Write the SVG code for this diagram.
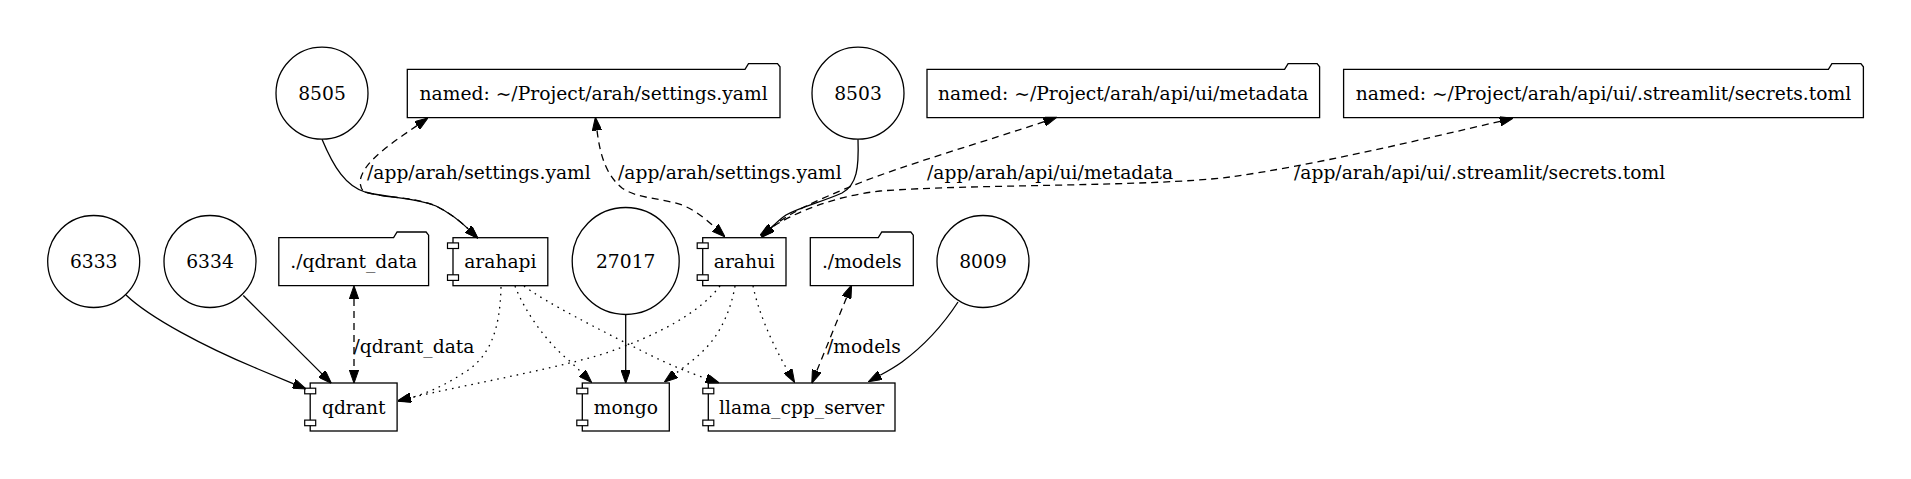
<svg xmlns="http://www.w3.org/2000/svg" width="1911" height="479" viewBox="0 0 1911 479">
<style>
text{font-family:"DejaVu Serif","Liberation Serif",serif;font-size:18.7px;fill:#000}
.node text{text-anchor:middle}
.node circle,.node .box,.node .fold{fill:none;stroke:#000;stroke-width:1.3}
.node .port{fill:#fff;stroke:#000;stroke-width:1.2}
.edges path{fill:none;stroke:#000;stroke-width:1.3}
.edges .dash{stroke-dasharray:7,5}
.edges .dot{stroke-dasharray:1.6,5}
.s{marker-end:url(#arr)}
.b{marker-start:url(#arr);marker-end:url(#arr)}
</style>
<defs>
<marker id="arr" viewBox="0 0 13.4 9.4" refX="0" refY="4.7" markerWidth="13.4" markerHeight="9.4" markerUnits="userSpaceOnUse" orient="auto-start-reverse"><path d="M0,0 L13.4,4.7 L0,9.4 z" fill="#000" stroke="#000" stroke-width="1"/></marker>
</defs>
<rect width="1911" height="479" fill="#fff"/>

<g id="n8505" class="node"><circle cx="322" cy="93.2" r="46"/><text x="322" y="99.7">8505</text></g>
<g id="n8503" class="node"><circle cx="858" cy="93.2" r="46"/><text x="858" y="99.7">8503</text></g>
<g id="n6333" class="node"><circle cx="93.7" cy="261.5" r="46"/><text x="93.7" y="268">6333</text></g>
<g id="n6334" class="node"><circle cx="210" cy="261.5" r="46"/><text x="210" y="268">6334</text></g>
<g id="n27017" class="node"><circle cx="625.7" cy="261" r="53.5"/><text x="625.7" y="268">27017</text></g>
<g id="n8009" class="node"><circle cx="983" cy="261.5" r="46"/><text x="983" y="268">8009</text></g>

<g id="vSettings" class="node"><path class="fold" d="M407.3,69.3 L745,69.3 L748.5,63.6 L777.5,63.6 L780,66.8 L780,117.7 L407.3,117.7 Z"/><text x="593.6" y="100">named: ~/Project/arah/settings.yaml</text></g>
<g id="vMetadata" class="node"><path class="fold" d="M927,69.3 L1284.6,69.3 L1288.1,63.6 L1317.1,63.6 L1319.6,66.8 L1319.6,117.7 L927,117.7 Z"/><text x="1123.3" y="100">named: ~/Project/arah/api/ui/metadata</text></g>
<g id="vSecrets" class="node"><path class="fold" d="M1343.6,69.3 L1828.4,69.3 L1831.9,63.6 L1860.9,63.6 L1863.4,66.8 L1863.4,117.7 L1343.6,117.7 Z"/><text x="1603.5" y="100">named: ~/Project/arah/api/ui/.streamlit/secrets.toml</text></g>
<g id="vQdrantData" class="node"><path class="fold" d="M278.8,237.7 L393.6,237.7 L397.1,232 L426.1,232 L428.6,235.2 L428.6,285.7 L278.8,285.7 Z"/><text x="353.7" y="268.2">./qdrant_data</text></g>
<g id="vModels" class="node"><path class="fold" d="M810.3,237.7 L878.3,237.7 L881.8,232 L910.8,232 L913.3,235.2 L913.3,285.7 L810.3,285.7 Z"/><text x="861.8" y="268.2">./models</text></g>

<g id="arahapi" class="node"><rect class="box" x="453" y="237.7" width="94.8" height="48"/><rect class="port" x="447.5" y="242.9" width="11" height="5.6"/><rect class="port" x="447.5" y="274.8" width="11" height="5.6"/><text x="500.4" y="268.2">arahapi</text></g>
<g id="arahui" class="node"><rect class="box" x="702.7" y="237.7" width="83.3" height="48"/><rect class="port" x="697.2" y="242.9" width="11" height="5.6"/><rect class="port" x="697.2" y="274.8" width="11" height="5.6"/><text x="744.4" y="268.2">arahui</text></g>
<g id="qdrant" class="node"><rect class="box" x="310.2" y="383" width="86.9" height="48"/><rect class="port" x="304.7" y="388.2" width="11" height="5.6"/><rect class="port" x="304.7" y="420.1" width="11" height="5.6"/><text x="353.7" y="413.5">qdrant</text></g>
<g id="mongo" class="node"><rect class="box" x="582.3" y="383" width="87" height="48"/><rect class="port" x="576.8" y="388.2" width="11" height="5.6"/><rect class="port" x="576.8" y="420.1" width="11" height="5.6"/><text x="625.8" y="413.5">mongo</text></g>
<g id="llama" class="node"><rect class="box" x="708.3" y="383" width="186.7" height="48"/><rect class="port" x="702.8" y="388.2" width="11" height="5.6"/><rect class="port" x="702.8" y="420.1" width="11" height="5.6"/><text x="801.7" y="413.5">llama_cpp_server</text></g>

<g id="edges" class="edges">
<path class="s" d="M322,139.2 C334,168 346,186 365,192 C390,199 412,196 436,206 C450,213 460,221 468.2,228.9"/>
<path class="b dash" d="M417,125.6 C392,143 362,162 360,182 C361,190 363,191 365,192 C390,199 412,196 436,206 C450,213 460,221 468.2,228.9"/>
<path class="b dash" d="M597,130.4 C600,155 606,175 622,188 C638,199 662,198 682,205 C697,211 708,221 715.3,227.8"/>
<path class="s" d="M858,139.2 C859,168 857,185 842,193 C822,202 800,207 786,215 C780,219 776,223 771.2,227.8"/>
<path class="b dash" d="M1044.2,121.6 C990,140 900,166 852,186 C820,199 790,212 771.2,227.8"/>
<path class="b dash" d="M1500.1,121.3 C1420,140 1310,166 1230,177 C1150,187 970,184 880,191 C835,196 795,212 771.2,227.8"/>
<path class="s" d="M126,295 C150,318 205,347 258,369 C270,374 282,379 293.7,383.8"/>
<path class="s" d="M243.3,295.5 L322,373.9"/>
<path class="b dash" d="M354,299.1 L354,369.9"/>
<path class="s dot" d="M501,287 C500,330 490,358 462,374 C445,385 428,393 410.7,397.7"/>
<path class="s dot" d="M720,286 C700,312 660,335 600,355 C540,372 460,386 410.7,397.7"/>
<path class="s dot" d="M515,286 C524,310 545,340 566,358 C572,363 577,368 582.1,373"/>
<path class="s dot" d="M524,286 C545,302 600,330 648,354 C670,365 690,373 706.4,378.5"/>
<path class="s dot" d="M735,286 C731,310 720,335 703,351 C694,360 684,367 674.9,374"/>
<path class="s dot" d="M753,286 C758,310 770,340 787.9,370.9"/>
<path class="b dash" d="M846.6,297.4 L816.8,370.9"/>
<path class="s" d="M958,302 C945,322 925,345 902,362 C895,367 888,371 880.1,375.3"/>
<path class="s" d="M625.7,314.5 L625.7,370"/>
<text x="367" y="178.5">/app/arah/settings.yaml</text>
<text x="618" y="178.5">/app/arah/settings.yaml</text>
<text x="927" y="178.5">/app/arah/api/ui/metadata</text>
<text x="1294" y="178.5">/app/arah/api/ui/.streamlit/secrets.toml</text>
<text x="353.5" y="353">/qdrant_data</text>
<text x="827" y="353">/models</text>
</g>
</svg>
